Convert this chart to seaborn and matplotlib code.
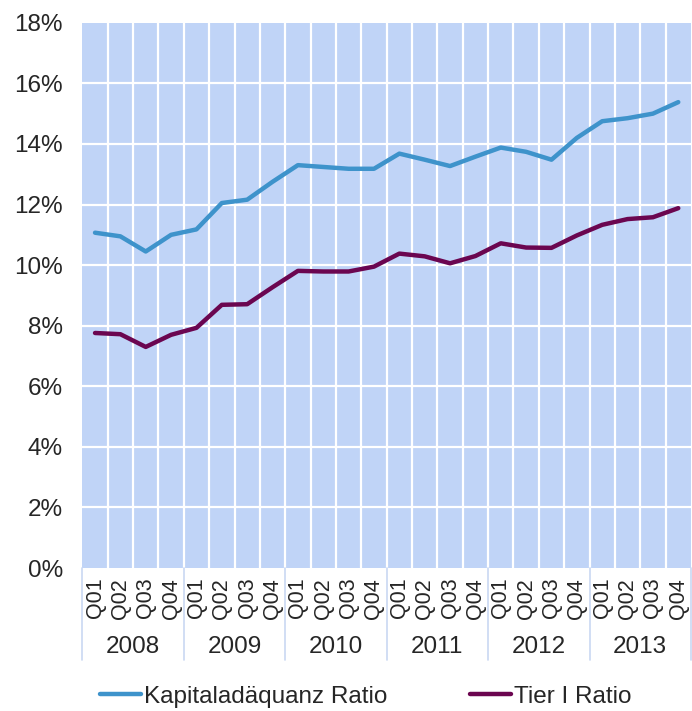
import numpy as np
import pandas as pd
import seaborn as sns
import matplotlib.pyplot as plt
from matplotlib.ticker import PercentFormatter
from matplotlib.lines import Line2D

# Daten (in %)
jahre = ["2008", "2009", "2010", "2011", "2012", "2013"]
quartale = ["Q01", "Q02", "Q03", "Q04"]
kapital = [11.07, 10.95, 10.45, 11.0, 11.18, 12.05, 12.16, 12.75,
           13.3, 13.24, 13.18, 13.18, 13.68, 13.48, 13.27, 13.58,
           13.88, 13.74, 13.48, 14.2, 14.75, 14.85, 15.0, 15.38]
tier1 = [7.76, 7.72, 7.3, 7.7, 7.93, 8.69, 8.71, 9.27,
         9.81, 9.79, 9.79, 9.95, 10.38, 10.29, 10.06, 10.3,
         10.72, 10.58, 10.57, 10.98, 11.33, 11.52, 11.58, 11.88]

n = len(jahre) * len(quartale)
df = pd.DataFrame({"idx": np.arange(n), "Kapitaladäquanz Ratio": kapital, "Tier I Ratio": tier1})
lang = df.melt(id_vars="idx", var_name="Serie", value_name="Wert")

sns.set_style("white")
plt.rcParams["font.family"] = ["Liberation Sans", "DejaVu Sans"]
fs = 17.5

farben = {"Kapitaladäquanz Ratio": "#3E93CB", "Tier I Ratio": "#6B0650"}
fig, ax = plt.subplots(figsize=(6.92, 7.11), dpi=100)
fig.subplots_adjust(left=0.119, right=0.9985, top=0.968, bottom=0.201)

sns.lineplot(data=lang, x="idx", y="Wert", hue="Serie", palette=farben,
             linewidth=3.2, ax=ax, legend=False, zorder=3)

ax.set_facecolor("#C0D4F7")
ax.set_xlim(-0.5, n - 0.5)
ax.set_ylim(0, 18)
ax.set_yticks(np.arange(0, 19, 2))
ax.yaxis.set_major_formatter(PercentFormatter(decimals=0))
for v in np.arange(2, 18, 2):
    ax.axhline(v, color="white", lw=1.6, zorder=1)
for i in range(1, n):
    ax.axvline(i - 0.5, color="white", lw=1.6, zorder=1)
for s in ax.spines.values():
    s.set_visible(False)

ax.tick_params(axis="y", labelsize=fs, length=0, pad=14)
ax.set_xticks(np.arange(n))
ax.set_xticklabels(quartale * len(jahre), rotation=90, fontsize=15.5)
ax.tick_params(axis="x", length=0, pad=7)
ax.set_xlabel("")
ax.set_ylabel("")

# Jahresbeschriftung und Trennlinien
trans = ax.get_xaxis_transform()
for k, j in enumerate(jahre):
    ax.text(k * 4 + 1.5, -0.145, j, transform=trans, ha="center", va="center", fontsize=fs)
for k in range(len(jahre) + 1):
    ax.plot([k * 4 - 0.5, k * 4 - 0.5], [0, -0.169], transform=trans,
            color="#C9D8F2", lw=1.2, clip_on=False)

handles = [Line2D([0], [0], color=farben[s], lw=3.2) for s in farben]
fig.legend(handles, list(farben), loc="center left", bbox_to_anchor=(0.1445, 0.02),
           ncol=2, frameon=False, fontsize=fs, handlelength=1.7,
           handletextpad=0.1, columnspacing=3.4, borderpad=0, borderaxespad=0)

plt.savefig("out.png", dpi=100)
